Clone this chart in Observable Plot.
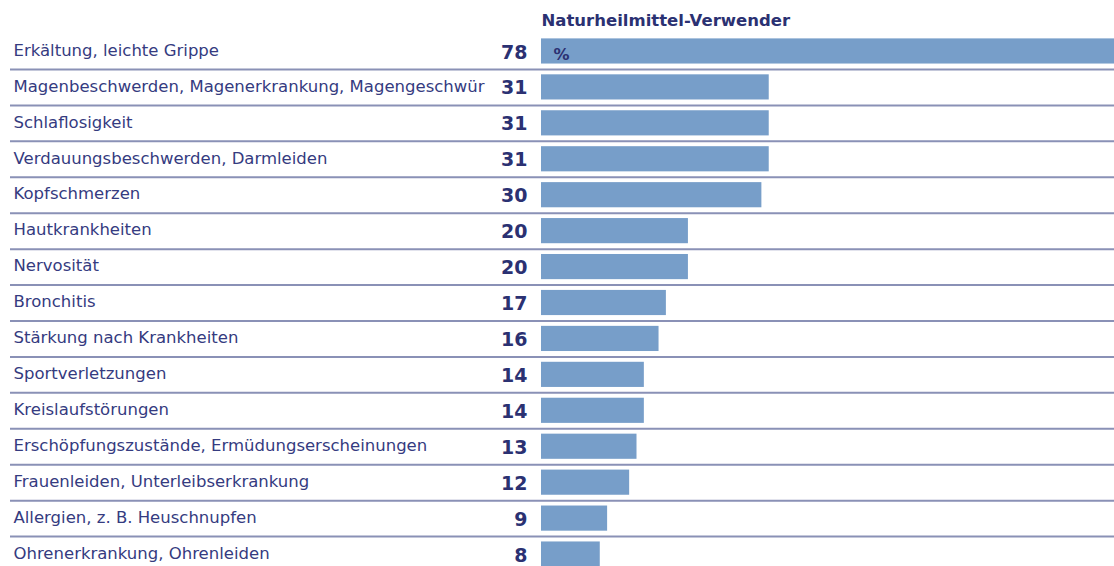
<!DOCTYPE html>
<html>
<head>
<meta charset="utf-8">
<script src="https://cdn.jsdelivr.net/npm/d3@7"></script>
<script src="https://cdn.jsdelivr.net/npm/@observablehq/plot@0.6"></script>
<style>
  html, body { margin: 0; padding: 0; background: #fff; overflow: hidden; }
  #chart svg { display: block; }
</style>
</head>
<body>
<div id="chart"></div>
<script>
const header = "Naturheilmittel-Verwender";
const unitLabel = "%";
const categories = [
  "Erkältung, leichte Grippe",
  "Magenbeschwerden, Magenerkrankung, Magengeschwür",
  "Schlaflosigkeit",
  "Verdauungsbeschwerden, Darmleiden",
  "Kopfschmerzen",
  "Hautkrankheiten",
  "Nervosität",
  "Bronchitis",
  "Stärkung nach Krankheiten",
  "Sportverletzungen",
  "Kreislaufstörungen",
  "Erschöpfungszustände, Ermüdungserscheinungen",
  "Frauenleiden, Unterleibserkrankung",
  "Allergien, z. B. Heuschnupfen",
  "Ohrenerkrankung, Ohrenleiden"
];
const values = [78, 31, 31, 31, 30, 20, 20, 17, 16, 14, 14, 13, 12, 9, 8];

const data = categories.map((c, i) => ({label: c, value: values[i]}));
const navy = "#2b3172";
const labelColor = "#353b80";
const font = "'DejaVu Sans', sans-serif";

const chart = Plot.plot({
  width: 1114,
  height: 566,
  marginLeft: 10,
  marginRight: 0,
  marginTop: 33,
  marginBottom: 0,
  style: {fontFamily: font, background: "#fff"},
  x: {domain: [0, 78], range: [541, 1114], axis: null},
  y: {domain: categories, range: [33, 572], round: false, axis: null, paddingInner: 0.3, paddingOuter: 0.15},
  marks: [
    Plot.ruleY(data.slice(0, -1), {y: "label", dy: 18, stroke: "#8a91b6", strokeWidth: 2}),
    Plot.barX(data, {y: "label", x: "value", fill: "#779ec9"}),
    Plot.text(data, {y: "label", text: "label", frameAnchor: "left", dx: 3, textAnchor: "start",
      fill: labelColor, fontSize: 16.5, dy: -1}),
    Plot.text(data, {y: "label", x: 0, text: d => String(d.value), textAnchor: "end", dx: -14,
      fill: navy, fontSize: 19, fontWeight: "bold", dy: 1}),
    Plot.text([header], {x: 0, frameAnchor: "top", text: d => d, textAnchor: "start", dy: -8,
      lineAnchor: "bottom", fill: navy, fontSize: 16.5, fontWeight: 600}),
    Plot.text([data[0]], {y: "label", x: 0, text: () => unitLabel, textAnchor: "start", dx: 12, dy: 3,
      fill: navy, fontSize: 16, fontWeight: "bold"})
  ]
});
document.getElementById("chart").appendChild(chart);
</script>
</body>
</html>
